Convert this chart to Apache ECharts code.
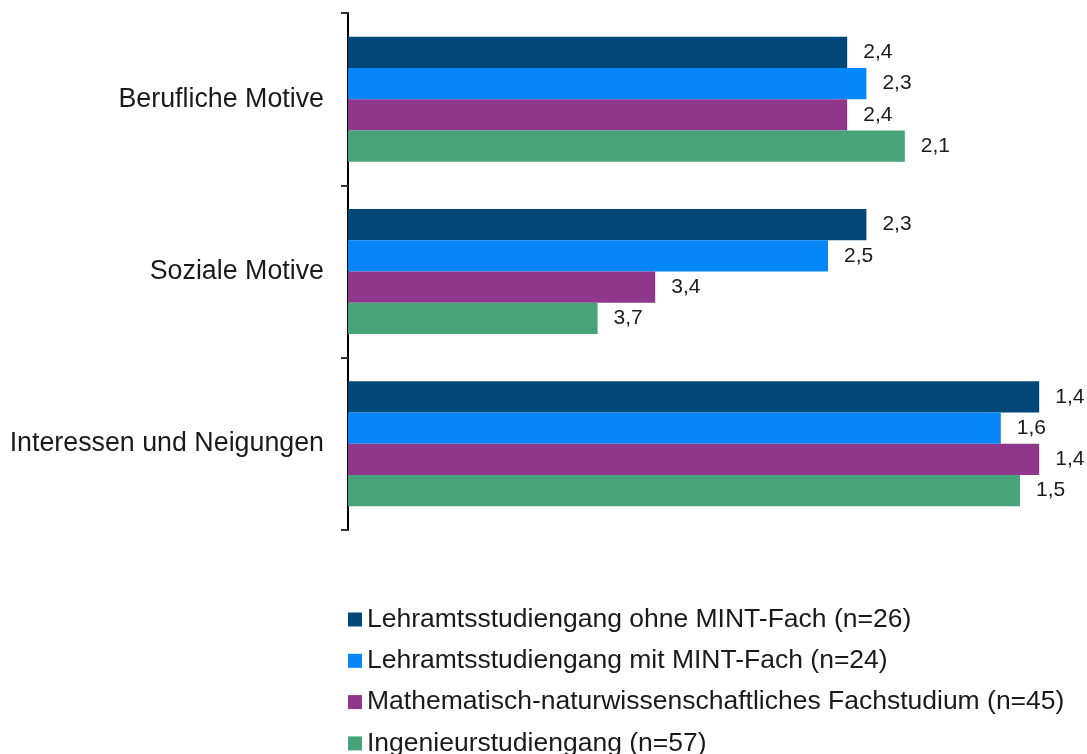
<!DOCTYPE html>
<html>
<head>
<meta charset="utf-8">
<script src="https://cdn.jsdelivr.net/npm/echarts@6/dist/echarts.min.js"></script>
<style>
  html, body { margin: 0; padding: 0; background: #fff; }
  #chart { width: 1087px; height: 754px; }
</style>
</head>
<body>
<div id="chart"></div>
<script>
// Kategorien (von oben nach unten)
const categories = ['Berufliche Motive', 'Soziale Motive', 'Interessen und Neigungen'];

// Gruppen / Legende
const seriesNames = [
  'Lehramtsstudiengang ohne MINT-Fach (n=26)',
  'Lehramtsstudiengang mit MINT-Fach (n=24)',
  'Mathematisch-naturwissenschaftliches Fachstudium (n=45)',
  'Ingenieurstudiengang (n=57)'
];

// Mittelwerte je Gruppe (1 = trifft voll zu ... 5 = trifft gar nicht zu)
const ohneMint = [2.4, 2.3, 1.4];
const mitMint = [2.3, 2.5, 1.6];
const fachstudium = [2.4, 3.4, 1.4];
const ingenieur = [2.1, 3.7, 1.5];

const seriesValues = [ohneMint, mitMint, fachstudium, ingenieur];
const colors = ['#004877', '#0587fa', '#8e378b', '#46a37a'];

// Skala: 5 links, 1 rechts (invertiert)
const AXIS_MIN = 1;
const AXIS_MAX = 5;

const FONT = "'Liberation Sans', Arial, sans-serif";
const BAR_SHARE = 0.725; // Anteil der Kategorie, den die 4 Balken einnehmen

function makeRenderItem(k) {
  return function (params, api) {
    const v = api.value(0);
    const c = api.value(1);
    const end = api.coord([v, c]);
    const start = api.coord([AXIS_MAX, c]);
    const band = api.size([0, 1])[1];
    const barH = band * BAR_SHARE / seriesValues.length;
    const y0 = end[1] - barH * seriesValues.length / 2 + k * barH;
    return {
      type: 'group',
      children: [
        {
          type: 'rect',
          shape: { x: start[0], y: y0, width: end[0] - start[0], height: barH },
          style: { fill: api.visual('color') }
        },
        {
          type: 'text',
          style: {
            x: end[0] + 16,
            y: y0 + barH / 2,
            text: v.toFixed(1).replace('.', ','),
            fill: '#1a1a1a',
            fontSize: 21,
            fontFamily: FONT,
            align: 'left',
            verticalAlign: 'middle'
          }
        }
      ]
    };
  };
}

const chart = echarts.init(document.getElementById('chart'), null, { renderer: 'canvas' });

const option = {
  animation: false,
  backgroundColor: '#fff',
  textStyle: { fontFamily: FONT },
  grid: {
    left: 348,
    top: 13,
    width: 768,
    height: 517,
    containLabel: false,
    outerBoundsMode: 'none'
  },
  legend: {
    orient: 'vertical',
    left: 348,
    top: 606,
    height: 160,
    padding: 0,
    itemWidth: 14,
    itemHeight: 14,
    itemGap: 14.3,
    icon: 'rect',
    data: seriesNames,
    textStyle: { fontSize: 26.5, lineHeight: 26, color: '#1a1a1a', fontFamily: FONT }
  },
  xAxis: {
    type: 'value',
    min: AXIS_MIN,
    max: AXIS_MAX,
    inverse: true,
    show: false,
    splitLine: { show: false }
  },
  yAxis: {
    type: 'category',
    data: categories,
    inverse: true,
    axisLine: { show: true, lineStyle: { color: '#000', width: 2 } },
    axisTick: { show: true, length: 7, lineStyle: { color: '#333', width: 2 } },
    axisLabel: { margin: 24, fontSize: 26.8, color: '#1a1a1a', fontFamily: FONT },
    splitLine: { show: false }
  },
  series: seriesNames.map((name, k) => ({
    name: name,
    type: 'custom',
    itemStyle: { color: colors[k] },
    encode: { x: 0, y: 1 },
    renderItem: makeRenderItem(k),
    data: seriesValues[k].map((v, i) => [v, i])
  }))
};

chart.setOption(option);
</script>
</body>
</html>
